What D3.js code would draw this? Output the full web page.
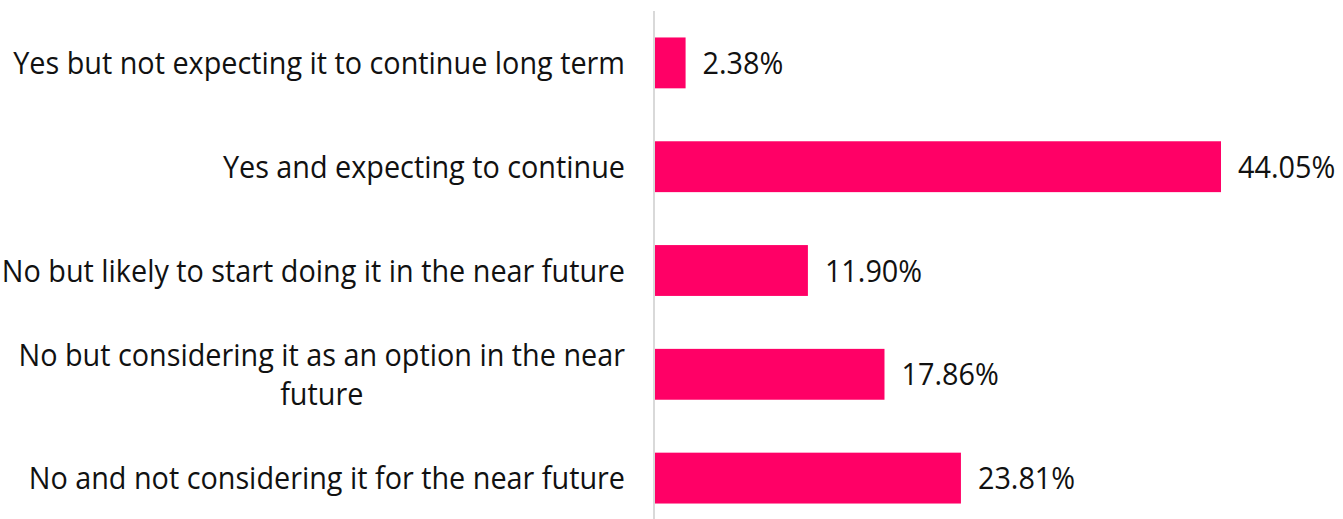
<!DOCTYPE html>
<html>
<head>
<meta charset="utf-8">
<script src="https://cdn.jsdelivr.net/npm/d3@7"></script>
<style>
  body { margin: 0; background: #fff; }
  svg { display: block; }
</style>
</head>
<body>
<script>
// chart data
const categories = [
  ["Yes but not expecting it to continue long term"],
  ["Yes and expecting to continue"],
  ["No but likely to start doing it in the near future"],
  ["No but considering it as an option in the near", "future"],
  ["No and not considering it for the near future"]
];
const values = [2.38, 44.05, 11.90, 17.86, 23.81];

const width = 1343, height = 519;
const axisX = 654, labelRight = 625;
const fontFamily = "'Open Sans', sans-serif", fontSize = 31;

const svg = d3.select("body").append("svg")
  .attr("width", width).attr("height", height);

// x: 1% is about 12.85px
const x = d3.scaleLinear().domain([0, 44.05]).range([axisX + 1, 1221]);
const y = d3.scaleBand()
  .domain(d3.range(categories.length))
  .range([11, 530])
  .paddingInner(0.51)
  .paddingOuter(0.255);

// axis line
svg.append("line")
  .attr("x1", axisX).attr("x2", axisX)
  .attr("y1", 11).attr("y2", height)
  .attr("stroke", "#d9d9d9").attr("stroke-width", 2);

// bars
svg.append("g").selectAll("rect").data(values).join("rect")
  .attr("x", x(0))
  .attr("y", (d, i) => y(i))
  .attr("width", d => x(d) - x(0))
  .attr("height", y.bandwidth())
  .attr("fill", "#ff0066");

// measure text to get a horizontal squeeze, the source font is narrow
const probe = svg.append("text").style("font-family", fontFamily)
  .style("font-size", fontSize + "px").text(categories[0][0]);
const sx = 612 / probe.node().getComputedTextLength();
probe.remove();

// category labels
const lineH = 39;
const lab = svg.append("g").selectAll("g").data(categories).join("g")
  .attr("transform", (d, i) => `translate(${labelRight},${y(i) + y.bandwidth() / 2}) scale(${sx},1)`);

lab.each(function(lines) {
  const g = d3.select(this);
  const t = g.append("text")
    .style("font-family", fontFamily)
    .style("font-size", fontSize + "px")
    .attr("fill", "#111");
  const tsp = t.selectAll("tspan").data(lines).join("tspan")
    .attr("dy", (d, j) => j === 0 ? 0 : lineH)
    .text(d => d);
  if (lines.length === 1) {
    t.attr("text-anchor", "end").attr("y", 11);
  } else {
    const w = d3.max(tsp.nodes(), n => n.getComputedTextLength());
    t.attr("text-anchor", "middle");
    tsp.attr("x", -w / 2);
    t.attr("y", 11 - (lines.length - 1) * lineH / 2);
  }
});

// value labels
svg.append("g").selectAll("text").data(values).join("text")
  .attr("transform", (d, i) => `translate(${x(d) + 17},${y(i) + y.bandwidth() / 2 + 11}) scale(${sx},1)`)
  .style("font-family", fontFamily)
  .style("font-size", fontSize + "px")
  .attr("fill", "#111")
  .text(d => d.toFixed(2) + "%");
</script>
</body>
</html>
